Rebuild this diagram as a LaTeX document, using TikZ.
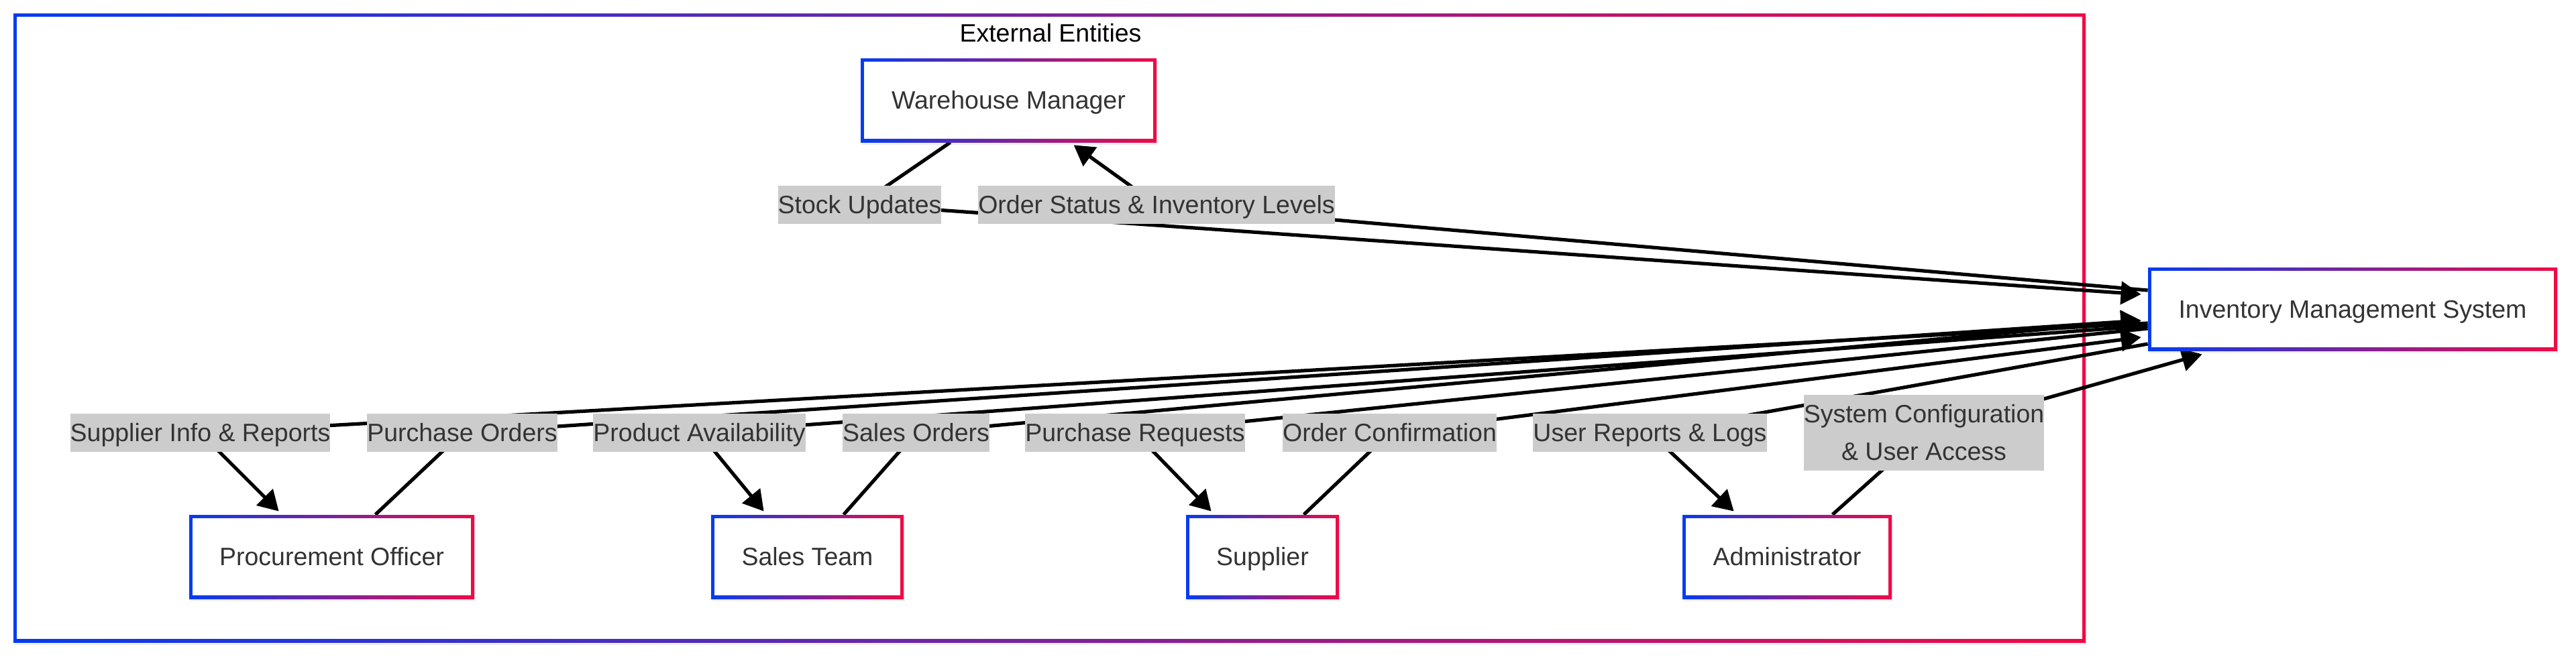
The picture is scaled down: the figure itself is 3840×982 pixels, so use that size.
\documentclass[tikz,border=0pt]{standalone}
\usepackage{fontspec}
\setmainfont{Liberation Sans}
\usetikzlibrary{arrows.meta,calc,shadows}
\definecolor{bluC}{RGB}{5,60,240}
\definecolor{redC}{RGB}{240,10,70}
\definecolor{txt}{HTML}{333333}
\definecolor{lblfill}{HTML}{CCCCCC}
\pgfdeclarelayer{bg}
\pgfdeclarelayer{edges}
\pgfsetlayers{bg,edges,main}
\tikzset{
 gradbox/.style={inner sep=0pt, fill=white, text=txt,
   drop shadow={shadow xshift=1pt, shadow yshift=-2pt, opacity=0.12},
   path picture={\shade[left color=bluC,right color=redC] (path picture bounding box.south west) rectangle (path picture bounding box.north east);
   \fill[white] ([shift={(#1,#1)}]path picture bounding box.south west) rectangle ([shift={(-#1,-#1)}]path picture bounding box.north east);}},
 entity/.style={gradbox=2.5pt, text height=17.4pt, text depth=4pt, minimum height=62.5pt},
 framebox/.style={gradbox=2.5pt},
 ttl/.style={text=black, inner sep=0pt, text height=17.4pt, text depth=4pt},
 lbl/.style={fill=lblfill, text=txt, inner xsep=0pt, inner ysep=0pt, minimum height=28.5pt, text height=17.4pt, text depth=4pt},
 lbltwo/.style={fill=lblfill, text=txt, inner xsep=0pt, inner ysep=0pt, minimum height=56.5pt, align=center},
 flow/.style={draw=black, line width=2.6pt, line join=round, -{Triangle[length=15pt,width=17pt]}},
}
\begin{document}
\begin{tikzpicture}[x=0.5pt,y=-0.5pt, every node/.style={font=\fontsize{18.75pt}{28pt}\selectfont}]
\useasboundingbox (0,0) rectangle (3840,982);
\begin{pgfonlayer}{bg}
\fill[white] (0,0) rectangle (3840,982);
\node[framebox, minimum width=1544.5pt, minimum height=469pt] (ext) at (1564.5,489) {};
\end{pgfonlayer}
\node[ttl] (title) at (1566,49) {External Entities};
% entities
\node[entity, minimum width=220.5pt] (wm) at (1503.5,149.5) {Warehouse Manager};
\node[entity, minimum width=305pt, minimum height=62pt] (ims) at (3507,461) {Inventory Management System};
\node[entity, minimum width=212.5pt] (po) at (494.5,830.5) {Procurement Officer};
\node[entity, minimum width=143.5pt] (st) at (1203.5,830.5) {Sales Team};
\node[entity, minimum width=114pt] (sup) at (1882,830.5) {Supplier};
\node[entity, minimum width=156pt] (adm) at (2664,830.5) {Administrator};
% labels
\node[lbl] (lsu) at (1281.5,305) {Stock Updates};
\node[lbl] (los) at (1724,305) {Order Status \& Inventory Levels};
\node[lbl] (lsi) at (298.5,645.5) {Supplier Info \& Reports};
\node[lbl] (lpo) at (689,645.5) {Purchase Orders};
\node[lbl] (lpa) at (1042.5,645.5) {Product Availability};
\node[lbl] (lso) at (1365.5,645.5) {Sales Orders};
\node[lbl] (lpr) at (1692,645.5) {Purchase Requests};
\node[lbl] (loc) at (2071.5,645.5) {Order Confirmation};
\node[lbl] (lur) at (2459.5,645.5) {User Reports \& Logs};
\node[lbltwo] (lsc) at (2868,645.5) {System Configuration\\\& User Access};
% edges
\begin{pgfonlayer}{edges}
\draw[flow] ($(wm.south west)+(134,0)$) -- (lsu.center) -- ($(ims.west)+(-10,-22)$);
\draw[flow] ($(ims.west)+(0,-28)$) -- (los.center) -- ($(wm.south west)+(318,4)$);
\draw[flow] ($(ims.west)+(0,21)$) -- (lsi.center) -- ($(po.north west)+(134,-5)$);
\draw[flow] ($(po.north west)+(278,0)$) -- (lpo.center) -- ($(ims.west)+(-10,17)$);
\draw[flow] ($(ims.west)+(0,25)$) -- (lpa.center) -- ($(st.north west)+(79,-5)$);
\draw[flow] ($(st.north west)+(198,0)$) -- (lso.center) -- ($(ims.west)+(-10,17)$);
\draw[flow] ($(ims.west)+(0,29)$) -- (lpr.center) -- ($(sup.north west)+(38,-5)$);
\draw[flow] ($(sup.north west)+(176,0)$) -- (loc.center) -- ($(ims.west)+(-10,42)$);
\draw[flow] ($(ims.west)+(0,52)$) -- (lur.center) -- ($(adm.north west)+(77,-5)$);
\draw[flow] ($(adm.north west)+(224,0)$) -- (lsc.center) -- ($(ims.south west)+(81,5)$);
\end{pgfonlayer}
\end{tikzpicture}
\end{document}
